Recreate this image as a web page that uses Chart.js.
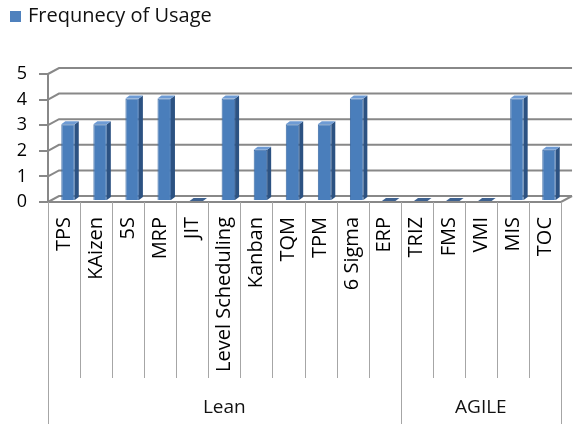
<!DOCTYPE html>
<html>
<head>
<meta charset="utf-8">
<script src="https://cdn.jsdelivr.net/npm/chart.js@4.4.1/dist/chart.umd.min.js"></script>
<style>
  html, body { margin:0; padding:0; background:#fff; }
</style>
</head>
<body>
<canvas id="chart" width="576" height="424"></canvas>
<script>
const categories = ['TPS','KAizen','5S','MRP','JIT','Level Scheduling','Kanban','TQM','TPM','6 Sigma','ERP','TRIZ','FMS','VMI','MIS','TOC'];
const usage = [3,3,4,4,0,4,2,3,3,4,0,0,0,0,4,2];
const groupNames = ['Lean','AGILE'];
const groupSizes = [11,5];
const yTicks = [0,1,2,3,4,5];
const seriesName = 'Frequnecy of Usage';

const FONT = '"Open Sans", sans-serif';
const gridColor = '#888';
// back wall offset (fake 3d)
const wallDX = 11, wallDY = -6;
// bar depth
const barDX = 4, barDY = -3;

function poly(ctx, pts) {
  ctx.beginPath();
  ctx.moveTo(pts[0], pts[1]);
  for (let i = 2; i < pts.length; i += 2) ctx.lineTo(pts[i], pts[i+1]);
  ctx.closePath();
  ctx.fill();
}

const fake3d = {
  id: 'fake3d',
  beforeDatasetsDraw(chart) {
    const {ctx, chartArea: a, scales: {y}} = chart;
    ctx.save();
    ctx.strokeStyle = gridColor;
    ctx.lineWidth = 2;
    yTicks.forEach(v => {
      const py = y.getPixelForValue(v);
      ctx.beginPath();
      ctx.moveTo(a.left, py);
      ctx.lineTo(a.left + wallDX, py + wallDY);
      ctx.lineTo(a.right + wallDX, py + wallDY);
      ctx.stroke();
    });
    // floor front edge + right side
    ctx.beginPath();
    ctx.moveTo(a.left, a.bottom);
    ctx.lineTo(a.right, a.bottom);
    ctx.lineTo(a.right + wallDX, a.bottom + wallDY);
    ctx.stroke();
    ctx.restore();
    // bars sit a little into the depth
    ctx.save();
    ctx.translate(4, -1);
  },
  afterDatasetsDraw(chart) {
    const ctx = chart.ctx;
    chart.getDatasetMeta(0).data.forEach(bar => {
      const p = bar.getProps(['x','y','base','width'], true);
      const l = p.x - p.width/2, r = p.x + p.width/2, t = p.y, b = p.base;
      const h = b - t;
      if (h > 0.5) {
        ctx.fillStyle = '#2c5282';
        poly(ctx, [r,t, r+barDX,t+barDY, r+barDX,b+barDY, r,b]);
      }
      ctx.fillStyle = h > 0.5 ? '#6e9bd4' : '#3d6190';
      poly(ctx, [l,t, r,t, r+barDX,t+barDY, l+barDX,t+barDY]);
    });
    ctx.restore();
  },
  afterDraw(chart) {
    const {ctx, chartArea: a, scales: {x}} = chart;
    const step = x.getPixelForValue(1) - x.getPixelForValue(0);
    const edge = i => x.getPixelForValue(i) - step/2;
    const bounds = [0];
    groupSizes.forEach(s => bounds.push(bounds[bounds.length-1] + s));

    ctx.save();
    ctx.strokeStyle = '#a6a6a6';
    ctx.lineWidth = 1;
    for (let i = 0; i <= categories.length; i++) {
      const px = Math.round(edge(i)) + 0.5;
      ctx.beginPath();
      ctx.moveTo(px, a.bottom);
      ctx.lineTo(px, bounds.includes(i) ? 424 : 378);
      ctx.stroke();
    }
    // group labels
    ctx.fillStyle = '#111';
    ctx.font = '19px ' + FONT;
    ctx.textAlign = 'center';
    ctx.textBaseline = 'middle';
    groupNames.forEach((g, k) => {
      ctx.fillText(g, (edge(bounds[k]) + edge(bounds[k+1])) / 2, 408);
    });
    // legend
    ctx.fillStyle = '#4f81bd';
    ctx.fillRect(10, 11, 11, 11);
    ctx.fillStyle = '#111';
    ctx.font = '20px ' + FONT;
    ctx.textAlign = 'left';
    ctx.fillText(seriesName, 28, 16);
    ctx.restore();
  }
};

const chart = document.querySelector('#chart').getContext('2d');
new Chart(chart, {
  type: 'bar',
  data: {
    labels: categories,
    datasets: [{
      label: seriesName,
      data: usage,
      backgroundColor: '#4a7ebb',
      borderColor: '#3a6aa5',
      borderWidth: 1,
      barPercentage: 0.42,
      categoryPercentage: 1
    }]
  },
  options: {
    responsive: false,
    animation: false,
    layout: { padding: { top: 74, right: -6, left: 0, bottom: 0 } },
    plugins: { legend: { display: false }, tooltip: { enabled: false } },
    scales: {
      x: {
        afterFit: s => { s.height = 222; },
        grid: { display: false },
        border: { display: false },
        ticks: { minRotation: 90, maxRotation: 90, autoSkip: false, padding: 7,
                 color: '#000', font: { family: FONT, size: 20 } }
      },
      y: {
        min: 0, max: 5,
        afterFit: s => { s.width = 48; },
        grid: { drawOnChartArea: false, tickLength: 9, color: gridColor, lineWidth: 2 },
        border: { color: gridColor, width: 2 },
        ticks: { stepSize: 1, padding: 12, color: '#000', font: { family: FONT, size: 18 } }
      }
    }
  },
  plugins: [fake3d]
});
</script>
</body>
</html>
